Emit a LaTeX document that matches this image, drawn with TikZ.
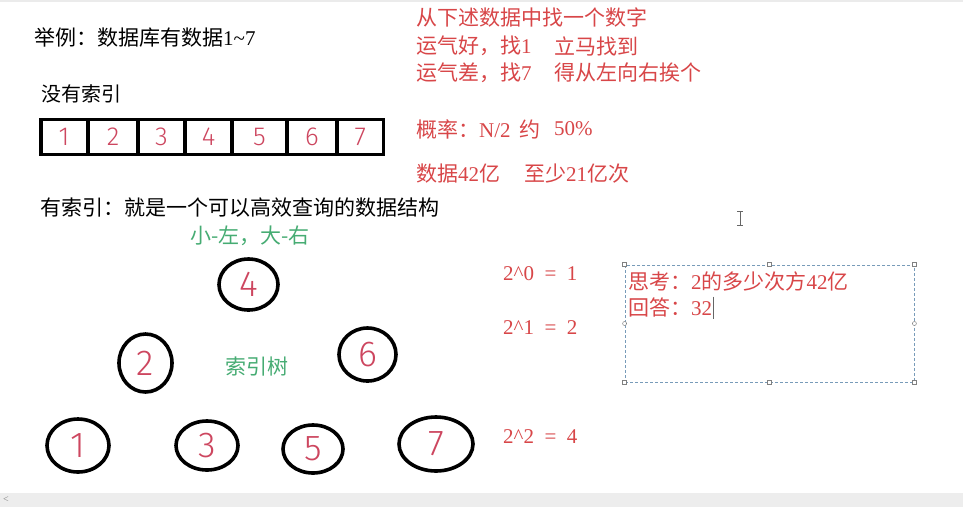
\documentclass[tikz,border=0pt]{standalone}
\usepackage{fontspec}
\setmainfont{Liberation Serif}
\newfontfamily\cjk{Noto Sans CJK SC}
\newfontfamily\hand{Fira Sans Light}
\usetikzlibrary{shapes.geometric}
\definecolor{tred}{RGB}{216,70,72}
\definecolor{tgreen}{RGB}{70,172,115}
\definecolor{hred}{RGB}{205,70,95}
\definecolor{selblue}{RGB}{120,155,185}
\begin{document}
\begin{tikzpicture}[x=1pt,y=-1pt,
  txt/.style={anchor=west,inner sep=0,font=\fontsize{21}{21}\selectfont},
  redtxt/.style={txt,text=tred},
  greentxt/.style={txt,text=tgreen},
  cell/.style={draw,line width=3.4pt,minimum height=35pt,inner sep=0,text=hred,font=\hand\fontsize{26}{26}\selectfont},
  tnode/.style={draw,ellipse,line width=3.6pt,inner sep=0,text=hred,font=\hand\fontsize{36}{36}\selectfont},
  handle/.style={draw=gray,fill=white,line width=0.5pt,minimum size=4pt,inner sep=0}]
\useasboundingbox (0,0) rectangle (963,507);
\fill[white] (0,0) rectangle (963,507);
\fill[black!8] (0,0) rectangle (963,2);
\fill[black!7] (0,493) rectangle (963,507);
\node[inner sep=0,text=gray,font=\fontsize{10}{10}\selectfont] (lt) at (6,500) {\textless};

% left texts
\node[txt] (t1) at (34,38) {{\cjk 举例：数据库有数据}1\textasciitilde7};
\node[txt,font=\fontsize{20}{20}\selectfont] (t2) at (41,93.5) {\cjk 没有索引};
\node[txt] (t3) at (40,207.5) {\cjk 有索引：就是一个可以高效查询的数据结构};
\node[greentxt] (t4) at (190,236) {\cjk 小-左，大-右};
\node[greentxt] (t5) at (225,367) {\cjk 索引树};

% array cells
\node[cell,minimum width=46.4pt] (c1) at (64,137) {1};
\node[cell,minimum width=50pt] (c2) at (113,137) {2};
\node[cell,minimum width=47pt] (c3) at (161.5,137) {3};
\node[cell,minimum width=47pt] (c4) at (208.5,137) {4};
\node[cell,minimum width=55pt] (c5) at (259.5,137) {5};
\node[cell,minimum width=50pt] (c6) at (312,137) {6};
\node[cell,minimum width=46.4pt] (c7) at (360.4,137) {7};

% tree
\node[tnode,minimum width=59pt,minimum height=51pt] (n4) at (248.5,284.5) {4};
\node[tnode,minimum width=53pt,minimum height=58pt] (n2) at (145.5,363) {2};
\node[tnode,minimum width=57pt,minimum height=53pt] (n6) at (367.5,354.5) {6};
\node[tnode,minimum width=62pt,minimum height=53pt] (n1) at (78,445.5) {1};
\node[tnode,minimum width=62pt,minimum height=49pt] (n3) at (207,445.5) {3};
\node[tnode,minimum width=60pt,minimum height=48pt] (n5) at (313,449) {5};
\node[tnode,minimum width=74pt,minimum height=54pt] (n7) at (436,444) {7};

% red texts
\node[redtxt] (r1) at (416,17.5) {\cjk 从下述数据中找一个数字};
\node[redtxt] (r2a) at (416,46) {{\cjk 运气好，找}1};
\node[redtxt] (r2b) at (554,46) {\cjk 立马找到};
\node[redtxt] (r3a) at (416,72.5) {{\cjk 运气差，找}7};
\node[redtxt] (r3b) at (554,72.5) {\cjk 得从左向右挨个};
\node[redtxt] (r4a) at (416,129) {{\cjk 概率：}N/2};
\node[redtxt] (r4b) at (519,129) {\cjk 约};
\node[redtxt] (r4c) at (554,129) {50\%};
\node[redtxt] (r5a) at (416,174) {{\cjk 数据}42{\cjk 亿}};
\node[redtxt] (r5b) at (524,174) {{\cjk 至少}21{\cjk 亿次}};

\node[redtxt] (p0) at (503,274) {2\textasciicircum0\enspace=\enspace1};
\node[redtxt] (p1) at (503,328) {2\textasciicircum1\enspace=\enspace2};
\node[redtxt] (p2) at (503,437) {2\textasciicircum2\enspace=\enspace4};

% selected text box
\node[draw=selblue,dash pattern=on 3pt off 2pt,line width=0.8pt,minimum width=289pt,minimum height=117pt,inner sep=0] (box) at (769.5,323.5) {};
\foreach \a/\n in {north west/1,north/2,north east/3,south west/4,south/5,south east/6}
  \node[handle] (h\n) at (box.\a) {};
\node[handle,circle] (h7) at (box.west) {};
\node[handle,circle] (h8) at (box.east) {};
\node[redtxt] (q1) at (628,281.5) {{\cjk 思考：}2{\cjk 的多少次方}42{\cjk 亿}};
\node[redtxt] (q2) at (628,307.5) {{\cjk 回答：}32};
\draw[black!60,line width=1pt] (q2.east) ++(1.5,-11) -- ++(0,22);

% mouse I-beam
\draw[black!60,line width=0.8pt] (737,211) -- (743,211) (740,211) -- (740,225) (737,225) -- (743,225);
\end{tikzpicture}
\end{document}
